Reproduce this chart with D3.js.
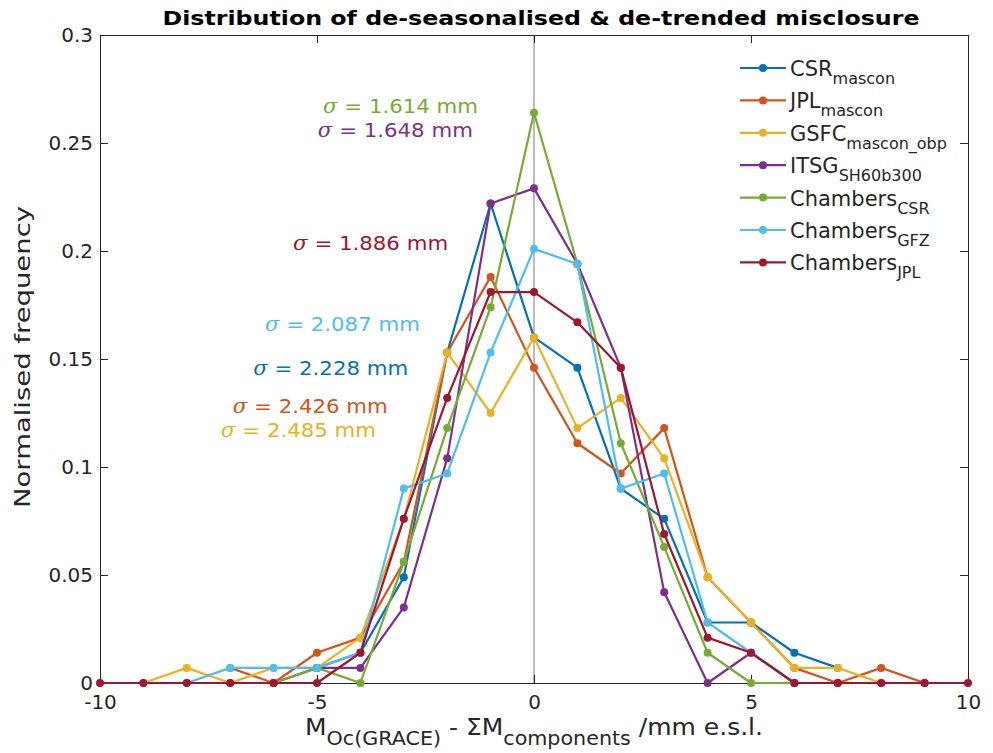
<!DOCTYPE html>
<html>
<head>
<meta charset="utf-8">
<script src="https://cdn.jsdelivr.net/npm/d3@7"></script>
<style>
  body { margin: 0; background: #fff; }
  svg { font-family: "DejaVu Sans", sans-serif; }
</style>
</head>
<body>
<div id="chart"></div>
<script>
// bins of the histogram, mm
const bins = [-10, -9, -8, -7, -6, -5, -4, -3, -2, -1, 0, 1, 2, 3, 4, 5, 6, 7, 8, 9, 10];

// normalised frequency per bin (null = bin not plotted)
const csrMascon   = [null, null, null, null, null, 0.007, 0.014, 0.049, 0.153, 0.222, 0.160, 0.146, 0.090, 0.076, 0.028, 0.028, 0.014, 0.007, null, null, null];
const jplMascon   = [null, null, null, 0.007, 0, 0.014, 0.021, 0.056, 0.153, 0.188, 0.146, 0.111, 0.097, 0.118, 0.049, 0.028, 0.007, 0, 0.007, 0, null];
const gsfcMascon  = [null, 0, 0.007, 0, 0.007, 0.007, 0.021, 0.076, 0.153, 0.125, 0.160, 0.118, 0.132, 0.104, 0.049, 0.028, 0.007, 0.007, 0, null, null];
const itsg        = [null, null, null, null, 0, 0.007, 0.007, 0.035, 0.104, 0.222, 0.229, 0.194, 0.146, 0.042, 0, 0.014, 0, null, null, null, null];
const chambersCSR = [null, null, null, null, 0, 0.007, 0, 0.056, 0.118, 0.174, 0.264, 0.194, 0.111, 0.063, 0.014, 0, 0, null, null, null, null];
const chambersGFZ = [null, null, 0, 0.007, 0.007, 0.007, 0.014, 0.090, 0.097, 0.153, 0.201, 0.194, 0.090, 0.097, 0.028, 0.014, 0, null, null, null, null];
const chambersJPL = [0, 0, 0, 0, 0, 0, 0.014, 0.076, 0.132, 0.181, 0.181, 0.167, 0.146, 0.069, 0.021, 0.014, 0, 0, 0, 0, 0];

const seriesNames = ["CSR", "JPL", "GSFC", "ITSG", "Chambers", "Chambers", "Chambers"];
const seriesSubs = ["mascon", "mascon", "mascon_obp", "SH60b300", "CSR", "GFZ", "JPL"];
const seriesColors = ["#0072BD", "#D95319", "#EDB120", "#7E2F8E", "#77AC30", "#4DBEEE", "#A2142F"];
const seriesValues = [csrMascon, jplMascon, gsfcMascon, itsg, chambersCSR, chambersGFZ, chambersJPL];

// std-dev annotations, same order as series; anchor = left end of text, in data units
const sigmaLabels = ["2.228", "2.426", "2.485", "1.648", "1.614", "2.087", "1.886"];
const sigmaAt = [[-6.47, 0.1426], [-6.94, 0.125], [-7.21, 0.114], [-4.98, 0.253], [-4.86, 0.264], [-6.2, 0.163], [-5.55, 0.2005]];

const yTicks = [0, 0.05, 0.1, 0.15, 0.2, 0.25, 0.3];
const xTicks = [-10, -5, 0, 5, 10];

const width = 993, height = 753;
const margin = {left: 100, right: 25, top: 35, bottom: 70};

const svg = d3.select("#chart").append("svg")
  .attr("width", width)
  .attr("height", height);

const x = d3.scaleLinear().domain([-10, 10]).range([margin.left, width - margin.right]);
const y = d3.scaleLinear().domain([0, 0.3]).range([height - margin.bottom, margin.top]);

const axisColor = "#262626";

// zero line
svg.append("line")
  .attr("x1", x(0)).attr("x2", x(0))
  .attr("y1", y(0)).attr("y2", y(0.3))
  .attr("stroke", "#a6a6a6").attr("stroke-width", 1.5);

// axes
const xAxis = svg.append("g")
  .attr("transform", `translate(0,${y(0)})`)
  .call(d3.axisBottom(x).tickValues(xTicks).tickSize(-8).tickPadding(12).tickFormat(d => String(d)));
const xAxisTop = svg.append("g")
  .attr("transform", `translate(0,${y(0.3)})`)
  .call(d3.axisTop(x).tickValues(xTicks).tickSize(-8).tickFormat(""));
const yAxis = svg.append("g")
  .attr("transform", `translate(${x(-10)},0)`)
  .call(d3.axisLeft(y).tickValues(yTicks).tickSize(-8).tickPadding(7).tickFormat(d => String(d)));
const yAxisRight = svg.append("g")
  .attr("transform", `translate(${x(10)},0)`)
  .call(d3.axisRight(y).tickValues(yTicks).tickSize(-8).tickFormat(""));

[xAxis, xAxisTop, yAxis, yAxisRight].forEach(g => {
  g.select(".domain").attr("stroke", axisColor).attr("stroke-width", 1);
  g.selectAll(".tick line").attr("stroke", axisColor);
  g.selectAll("text").attr("fill", "#262626").attr("font-size", 20).attr("font-family", "DejaVu Sans");
});

// series lines + markers
const line = d3.line()
  .defined(d => d[1] !== null)
  .x(d => x(d[0]))
  .y(d => y(d[1]));

seriesValues.forEach((vals, i) => {
  const pts = bins.map((b, j) => [b, vals[j]]);
  svg.append("path")
    .datum(pts)
    .attr("d", line)
    .attr("fill", "none")
    .attr("stroke", seriesColors[i])
    .attr("stroke-width", 2.2)
    .attr("stroke-linejoin", "round");
  svg.selectAll(null)
    .data(pts.filter(d => d[1] !== null))
    .enter()
    .append("circle")
    .attr("cx", d => x(d[0]))
    .attr("cy", d => y(d[1]))
    .attr("r", 4)
    .attr("fill", seriesColors[i]);
});

// sigma annotations
sigmaLabels.forEach((s, i) => {
  const t = svg.append("text")
    .attr("x", x(sigmaAt[i][0]))
    .attr("y", y(sigmaAt[i][1]))
    .attr("fill", seriesColors[i])
    .attr("font-size", 20)
    .attr("textLength", 155)
    .attr("lengthAdjust", "spacingAndGlyphs");
  t.append("tspan").attr("font-style", "italic").attr("font-family", "DejaVu Serif").text("σ");
  t.append("tspan").text(" = " + s + " mm");
});

// legend
const legend = svg.append("g");
seriesNames.forEach((name, i) => {
  const ly = 68 + i * 32.4;
  legend.append("line")
    .attr("x1", 740).attr("x2", 786)
    .attr("y1", ly).attr("y2", ly)
    .attr("stroke", seriesColors[i]).attr("stroke-width", 2.2);
  legend.append("circle")
    .attr("cx", 763).attr("cy", ly).attr("r", 4)
    .attr("fill", seriesColors[i]);
  const t = legend.append("text")
    .attr("x", 790).attr("y", ly + 8)
    .attr("font-size", 21).attr("fill", "#262626");
  t.append("tspan").text(name);
  t.append("tspan").attr("font-size", 16).attr("dy", 8).text(seriesSubs[i]);
});

// title
svg.append("text")
  .attr("x", 541).attr("y", 25)
  .attr("text-anchor", "middle")
  .attr("font-weight", "bold")
  .attr("font-size", 19)
  .attr("textLength", 757)
  .attr("lengthAdjust", "spacingAndGlyphs")
  .attr("fill", "#000")
  .text("Distribution of de-seasonalised & de-trended misclosure");

// y label
svg.append("text")
  .attr("transform", `translate(30,${(y(0) + y(0.3)) / 2 - 2}) rotate(-90)`)
  .attr("text-anchor", "middle")
  .attr("font-size", 22)
  .attr("textLength", 302)
  .attr("lengthAdjust", "spacingAndGlyphs")
  .attr("fill", "#262626")
  .text("Normalised frequency");

// x label
const xl = svg.append("text")
  .attr("x", 305).attr("y", 735)
  .attr("font-size", 23)
  .attr("textLength", 458)
  .attr("lengthAdjust", "spacingAndGlyphs")
  .attr("fill", "#262626");
xl.append("tspan").text("M");
xl.append("tspan").attr("font-size", 19).attr("dy", 10).text("Oc(GRACE)");
xl.append("tspan").attr("dy", -10).text(" - ΣM");
xl.append("tspan").attr("font-size", 19).attr("dy", 10).text("components");
xl.append("tspan").attr("dy", -10).text("  /mm e.s.l.");
</script>
</body>
</html>
